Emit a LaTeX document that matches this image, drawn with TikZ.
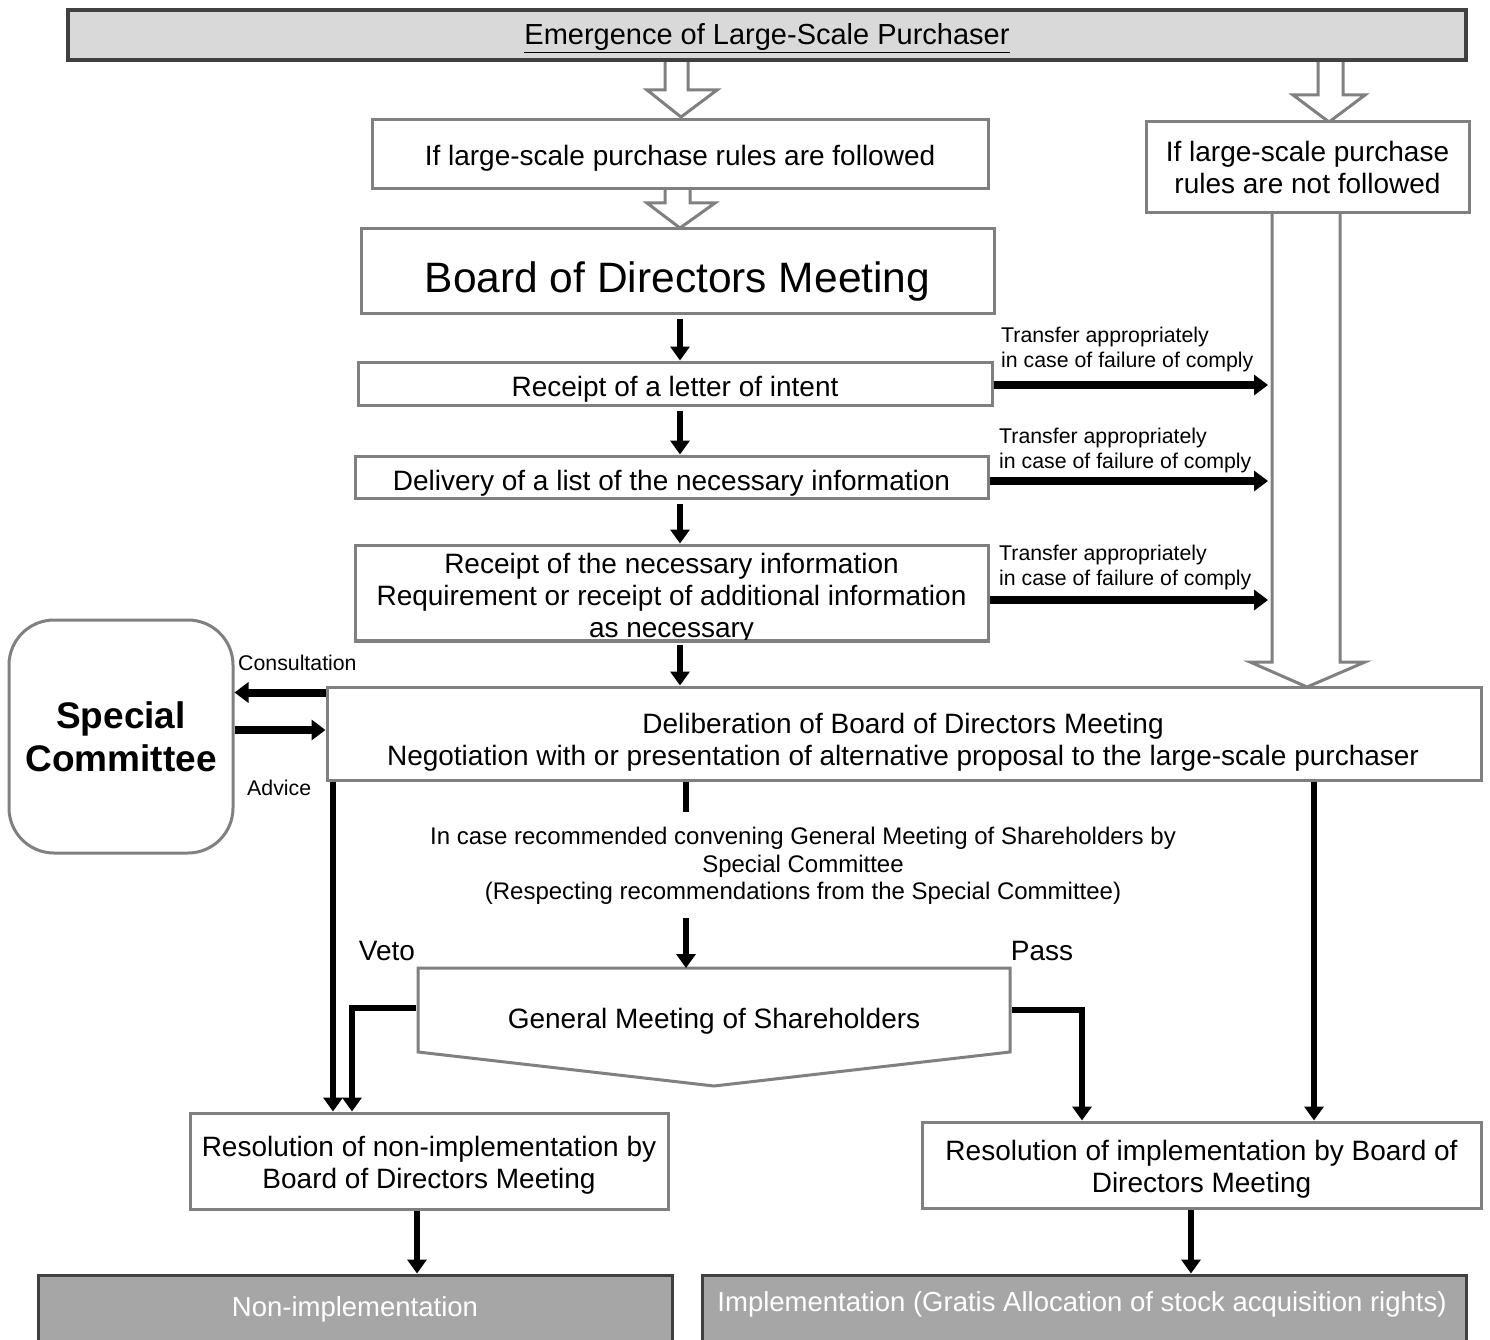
\documentclass[tikz,border=0pt]{standalone}
\usepackage{fontspec}
\setmainfont{Liberation Sans}
\usetikzlibrary{arrows.meta}
\definecolor{bordergray}{HTML}{808080}
\definecolor{darkborder}{HTML}{404040}
\definecolor{topfill}{HTML}{D9D9D9}
\definecolor{bottomfill}{HTML}{A6A6A6}
\begin{document}
\begin{tikzpicture}[x=1pt,y=-1pt,
  box/.style={draw=bordergray, line width=3pt, fill=white, inner sep=0pt, align=center,
    font=\fontsize{28}{32}\selectfont},
  topbox/.style={draw=darkborder, line width=4pt, fill=topfill, inner sep=0pt, align=center,
    font=\fontsize{29}{33}\selectfont},
  endbox/.style={draw=darkborder, line width=3pt, fill=bottomfill, inner sep=0pt, align=center,
    text=white, font=\fontsize{27.5}{32}\selectfont},
  hollow/.style={draw=bordergray, line width=3pt, fill=white, line join=miter},
  blk/.style={line width=6.5pt, line join=miter, -{Triangle[length=14pt,width=19pt]}},
  blkw/.style={line width=8pt, -{Triangle[length=14pt,width=20pt]}},
  lbl/.style={inner sep=0pt, align=left, font=\fontsize{21.3}{25}\selectfont},
  txt/.style={inner sep=0pt, align=center, font=\fontsize{28}{32}\selectfont}]
\useasboundingbox (0,0) rectangle (1490,1340);
\fill[white] (0,0) rectangle (1490,1340);

% hollow arrows
\draw[hollow] (665,61) -- (665,90) -- (647,90) -- (681,117) -- (717,90) -- (688,90) -- (688,61);
\draw[hollow] (665,188) -- (665,203) -- (647,203) -- (680,228) -- (715,203) -- (690,203) -- (690,188);
\draw[hollow] (1318,61) -- (1318,95) -- (1293,95) -- (1329,122) -- (1365,95) -- (1343,95) -- (1343,61);
\draw[hollow] (1272,212) -- (1272,662) -- (1250,662) -- (1307,687) -- (1365,662) -- (1340,662) -- (1340,212);

% boxes
\node[topbox, minimum width=1398pt, minimum height=50pt] (top) at (767,35) {};
\node[txt, font=\fontsize{29}{33}\selectfont] (toptext) at (767,38) {\underline{Emergence of Large-Scale Purchaser}};
\node[box, minimum width=616pt, minimum height=69pt] (follow) at (680,154.5) {};
\node[txt] (followtext) at (680,158) {If large-scale purchase rules are followed};
\node[box, minimum width=323pt, minimum height=91pt] (notfollow) at (1307.5,167.5) {If large-scale purchase\\rules are not followed};
\node[box, minimum width=633pt, minimum height=84pt] (bod) at (677.5,271) {};
\node[txt, font=\fontsize{42.5}{48}\selectfont] (bodtext) at (677.5,282) {Board of Directors Meeting};
\node[box, minimum width=634pt, minimum height=43pt] (receipt1) at (675,383.5) {};
\node[txt] (receipt1text) at (675,389) {Receipt of a letter of intent};
\node[box, minimum width=633pt, minimum height=42pt] (delivery) at (671.5,477) {};
\node[txt] (deliverytext) at (671.5,483) {Delivery of a list of the necessary information};
\node[box, minimum width=633pt, minimum height=95pt] (receipt2) at (671.5,592.5) {};
\node[txt] (receipt2text) at (671.5,598) {Receipt of the necessary information\\Requirement or receipt of additional information\\as necessary};
\draw[draw=bordergray, line width=3pt] (receipt2.south west) -- (receipt2.south east);
\node[box, minimum width=1154pt, minimum height=93pt] (delib) at (904,733.5) {};
\node[txt] (delibtext) at (903,742) {Deliberation of Board of Directors Meeting\\Negotiation with or presentation of alternative proposal to the large-scale purchaser};
\node[box, rounded corners=45pt, minimum width=224pt, minimum height=233pt,
  font=\bfseries\fontsize{37}{43}\selectfont] (sc) at (121,736.5) {Special\\Committee};

% general meeting of shareholders
\draw[hollow] (418,968) -- (1010,968) -- (1010,1052) -- (714,1086) -- (418,1052) -- cycle;
\node[txt] (gms) at (714,1021) {General Meeting of Shareholders};

\node[box, minimum width=478pt, minimum height=96pt] (resno) at (429,1161) {};
\node[txt] (resnotext) at (429,1165) {Resolution of non-implementation by\\Board of Directors Meeting};
\node[box, minimum width=559pt, minimum height=86pt] (resyes) at (1201.5,1165) {};
\node[txt] (resyestext) at (1201.5,1169) {Resolution of implementation by Board of\\Directors Meeting};
\node[endbox, minimum width=634pt, minimum height=70pt] (nonimpl) at (355,1310) {};
\node[txt, text=white, font=\fontsize{27.5}{32}\selectfont] (nonimpltext) at (355,1309) {Non-implementation};
\node[endbox, minimum width=764pt, minimum height=70pt] (impl) at (1084,1310) {};
\node[txt, text=white, font=\fontsize{27.5}{32}\selectfont] (impltext) at (1082,1304) {Implementation (Gratis Allocation of stock acquisition rights)};

% labels
\node[lbl, anchor=west] (t1) at (1001,349) {Transfer appropriately\\in case of failure of comply};
\node[lbl, anchor=west] (t2) at (999,450) {Transfer appropriately\\in case of failure of comply};
\node[lbl, anchor=west] (t3) at (999,567) {Transfer appropriately\\in case of failure of comply};
\node[lbl, anchor=west] (consult) at (238,663) {Consultation};
\node[lbl, anchor=west] (advice) at (247,788) {Advice};
\node[txt, font=\fontsize{24}{27.5}\selectfont] (rec) at (803,866) {In case recommended convening General Meeting of Shareholders by\\Special Committee\\(Respecting recommendations from the Special Committee)};
\node[txt] (veto) at (387,951) {Veto};
\node[txt] (pass) at (1042,951) {Pass};

% coordinates
\coordinate (ax) at (680,0);
\coordinate (tx) at (1268,0);
\coordinate (advy) at (0,730);
\coordinate (lx) at (333,0);
\coordinate (rx) at (1314,0);
\coordinate (m1) at (686,812);
\coordinate (m2) at (686,918);
\coordinate (gmstop) at (0,968);
\coordinate (vetostart) at (416,1008);
\coordinate (vetocorner) at (352,1008);
\coordinate (passstart) at (1012,1010);
\coordinate (passcorner) at (1082,1010);
\coordinate (bx1) at (417,0);
\coordinate (bx2) at (1191,0);

% black connectors
\draw[blk] ([yshift=-4pt]bod.south -| ax) -- (receipt1.north -| ax);
\draw[blk] ([yshift=-4pt]receipt1.south -| ax) -- (delivery.north -| ax);
\draw[blk] ([yshift=-4pt]delivery.south -| ax) -- (receipt2.north -| ax);
\draw[blk] ([yshift=-3pt]receipt2.south -| ax) -- (delib.north -| ax);

\draw[blkw] ([yshift=-1.5pt]receipt1.east) -- ([yshift=-1.5pt]receipt1.east -| tx);
\draw[blkw] ([yshift=-4pt]delivery.east) -- ([yshift=-4pt]delivery.east -| tx);
\draw[blkw] ([yshift=-7.5pt]receipt2.east) -- ([yshift=-7.5pt]receipt2.east -| tx);

\draw[blkw] ([yshift=-7pt]delib.north west) -- ([yshift=-7pt]delib.north west -| sc.east);
\draw[blkw] (sc.east |- advy) -- (delib.west |- advy);

\draw[blk] (delib.south -| lx) -- (resno.north -| lx);
\draw[blk] (delib.south -| rx) -- (resyes.north -| rx);
\draw[line width=6.5pt] (delib.south -| m1) -- (m1);
\draw[blk] (m2) -- (m2 |- gmstop);
\draw[blk] (vetostart) -- (vetocorner) -- (resno.north -| vetocorner);
\draw[blk] (passstart) -- (passcorner) -- (resyes.north -| passcorner);
\draw[blk] (resno.south -| bx1) -- (nonimpl.north -| bx1);
\draw[blk] (resyes.south -| bx2) -- (impl.north -| bx2);
\end{tikzpicture}
\end{document}
